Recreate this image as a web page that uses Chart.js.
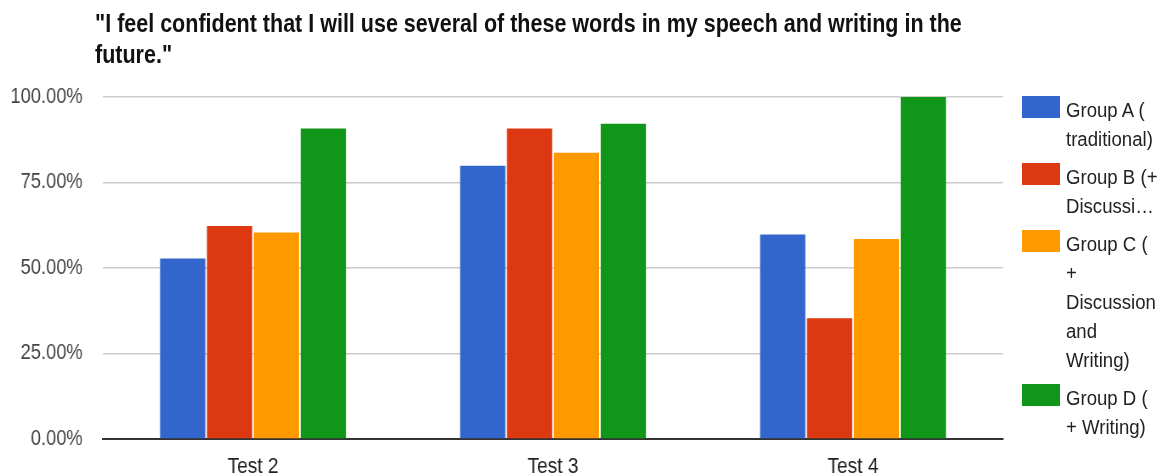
<!DOCTYPE html>
<html>
<head>
<meta charset="utf-8">
<script src="https://cdn.jsdelivr.net/npm/chart.js@4.4.0/dist/chart.umd.min.js"></script>
<style>
body{margin:0;background:#fff;}
#wrap{position:relative;width:1159px;height:476px;overflow:hidden;font-family:"Liberation Sans",Arial,sans-serif;}
#title{position:absolute;left:95px;top:8px;font-weight:bold;font-size:25px;line-height:31px;color:#111;white-space:pre;transform:scaleX(0.86);transform-origin:0 0;}
#chart{position:absolute;left:0;top:0;transform:scaleX(0.8497);transform-origin:0 0;}
#legend{position:absolute;left:1022px;top:96px;}
.item{display:flex;margin-bottom:9px;}
.sw{width:38px;height:22px;margin-right:6px;flex:none;}
.lab{font-size:20px;line-height:29px;color:#222;margin-top:0;white-space:pre;transform:scaleX(0.93);transform-origin:0 0;}
</style>
</head>
<body>
<div id="wrap">
  <canvas id="chart" width="1364" height="476" style="width:1364px;height:476px"></canvas>
  <div id="title">"I feel confident that I will use several of these words in my speech and writing in the
future."</div>
  <div id="legend"></div>
</div>
<script>
var categories = ["Test 2", "Test 3", "Test 4"];
var groupNames = ["Group A (\ntraditional)", "Group B (+\nDiscussi\u2026", "Group C (\n+\nDiscussion\nand\nWriting)", "Group D (\n+ Writing)"];
var groupA = [52.8, 79.9, 59.8];
var groupB = [62.3, 90.8, 35.3];
var groupC = [60.4, 83.7, 58.5];
var groupD = [90.8, 92.2, 100];
var yTicks = [0, 25, 50, 75, 100];
var colors = ["#3366cc", "#dc3912", "#ff9900", "#109618"];

var font = '"Liberation Sans",Arial,sans-serif';
var series = [groupA, groupB, groupC, groupD];
// canvas is drawn wide and squeezed by css to get the narrow lettering
var sx = 0.8497;

// html legend, labels wrap like the original
var legend = document.getElementById("legend");
groupNames.forEach(function(name, i){
	var item = document.createElement("div");
	item.className = "item";
	item.innerHTML = '<div class="sw" style="background:' + colors[i] + '"></div><div class="lab"></div>';
	item.querySelector(".lab").textContent = name;
	legend.appendChild(item);
});

new Chart(document.getElementById("chart"), {
	type: "bar",
	data: {
		labels: categories,
		datasets: series.map(function(vals, i){
			return {label: groupNames[i], data: vals, backgroundColor: colors[i],
				categoryPercentage: 0.625, barPercentage: 0.965};
		})
	},
	options: {
		responsive: false,
		animation: false,
		layout: {padding: {left: 0, right: 156 / sx, top: 97, bottom: 0}},
		plugins: {legend: {display: false}, title: {display: false}, tooltip: {enabled: false}},
		scales: {
			x: {
				grid: {display: false, drawTicks: false},
				border: {color: "#333", width: 2},
				ticks: {font: {family: font, size: 22.5}, color: "#222", padding: 14},
				afterFit: function(s){ s.height = 37; }
			},
			y: {
				min: 0, max: 100,
				afterBuildTicks: function(s){ s.ticks = yTicks.map(function(v){ return {value: v}; }); },
				grid: {color: "#cccccc", lineWidth: 1.5, drawTicks: false},
				border: {display: false},
				ticks: {font: {family: font, size: 21.5}, color: "#444", padding: 24,
					callback: function(v){ return v.toFixed(2) + "%"; }},
				afterFit: function(s){ s.width = 103 / sx; }
			}
		}
	}
});
</script>
</body>
</html>
